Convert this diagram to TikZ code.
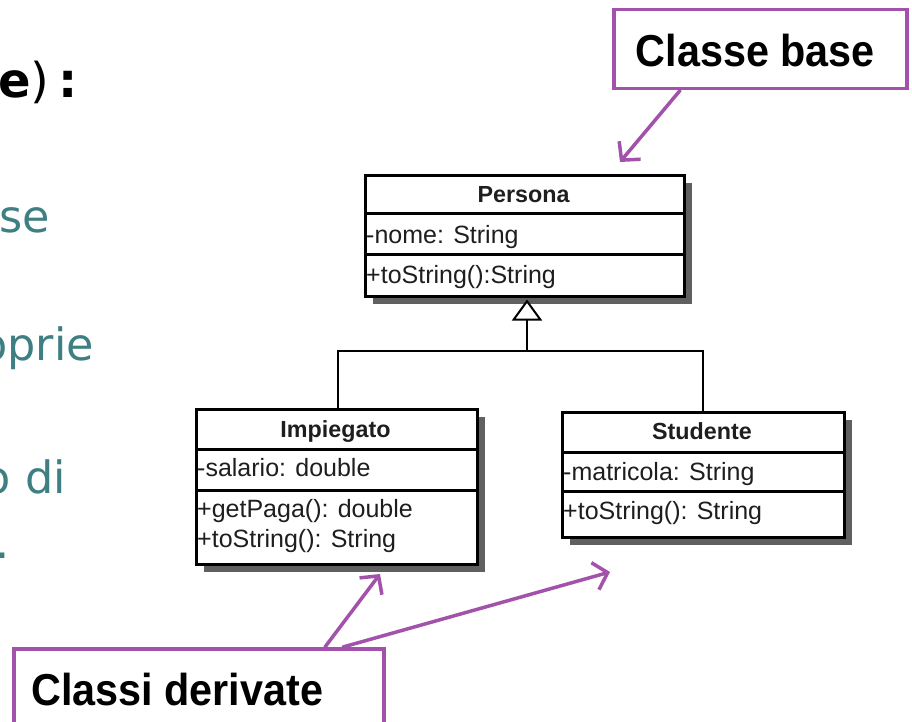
\documentclass[tikz,border=0pt]{standalone}
\usepackage{fontspec}
\setmainfont{DejaVu Sans}
\newfontfamily\umlfont{Liberation Sans}
\newfontfamily\callfont{Liberation Sans}[FakeStretch=0.925]
\usetikzlibrary{arrows.meta,calc}
\definecolor{tealtxt}{RGB}{62,127,131}
\definecolor{callpurple}{RGB}{162,82,170}
\definecolor{umlshade}{RGB}{96,96,96}
\definecolor{umltext}{RGB}{30,30,30}
\tikzset{
  umlbox/.style={draw=black, line width=3pt, fill=white, inner sep=0pt, anchor=north west},
  umlshadow/.style={fill=umlshade},
  umldiv/.style={draw=black, line width=3pt},
  umlhead/.style={font=\umlfont\bfseries\fontsize{23.3}{26}\selectfont, text=umltext, inner sep=0pt, anchor=base},
  umlattr/.style={font=\umlfont\fontsize{25}{28}\selectfont, text=umltext, inner sep=0pt, anchor=base west},
  genline/.style={draw=black, line width=2pt},
  callbox/.style={draw=callpurple, line width=3.5pt, fill=white, inner sep=0pt, anchor=north west},
  calltext/.style={font=\callfont\bfseries\fontsize{44.7}{50}\selectfont, text=black, inner sep=0pt},
  callarrow/.style={draw=callpurple, line width=3.5pt, line cap=round,
    -{Straight Barb[length=13pt, width=28pt, line width=3.5pt]}},
  sidetext/.style={font=\fontsize{44.5}{50}\selectfont, text=tealtxt, inner sep=0pt, anchor=base east},
}
\begin{document}
\begin{tikzpicture}[x=1pt, y=-1pt]
\useasboundingbox (0,0) rectangle (912,722);
\fill[white] (0,0) rectangle (912,722);
\clip (0,0) rectangle (912,722);

% left, cut-off slide text
\node[font=\fontsize{48}{54}\selectfont, text=black, inner sep=0pt, anchor=base west] (t0) at (-2,98) {\textbf{e})\hspace{9pt}\textbf{:}};
\node[sidetext] (t1) at (50,232) {se};
\node[sidetext] (t2) at (94,360) {oprie};
\node[sidetext] (t3) at (66,493) {o di};
\node[sidetext] (t4) at (10,558) {.};

% ---------- Persona ----------
\fill[umlshadow] (373,183) rectangle (692,304);
\node[umlbox, minimum width=319pt, minimum height=121pt] (persona) at (364,174) {};
\draw[umldiv] (persona.west |- 0,213) -- (persona.east |- 0,213);
\draw[umldiv] (persona.west |- 0,254) -- (persona.east |- 0,254);
\node[umlhead] (personaT) at (523.5,202) {Persona};
\node[umlattr] (personaA) at (366,243) {-nome: String};
\node[umlattr] (personaM) at (366,283) {+toString():String};

% ---------- Impiegato ----------
\fill[umlshadow] (204,417) rectangle (485,572);
\node[umlbox, minimum width=281pt, minimum height=155pt] (impiegato) at (195,408) {};
\draw[umldiv] (impiegato.west |- 0,449) -- (impiegato.east |- 0,449);
\draw[umldiv] (impiegato.west |- 0,490) -- (impiegato.east |- 0,490);
\node[umlhead] (impiegatoT) at (335.5,437) {Impiegato};
\node[umlattr] (impiegatoA) at (197,476) {-salario: double};
\node[umlattr] (impiegatoM1) at (197,517) {+getPaga(): double};
\node[umlattr] (impiegatoM2) at (197,547) {+toString(): String};

% ---------- Studente ----------
\fill[umlshadow] (570,420) rectangle (852,545);
\node[umlbox, minimum width=282pt, minimum height=125pt] (studente) at (561,411) {};
\draw[umldiv] (studente.west |- 0,452) -- (studente.east |- 0,452);
\draw[umldiv] (studente.west |- 0,491) -- (studente.east |- 0,491);
\node[umlhead] (studenteT) at (702,439) {Studente};
\node[umlattr] (studenteA) at (563,480) {-matricola: String};
\node[umlattr] (studenteM) at (563,519) {+toString(): String};

% ---------- generalization ----------
\coordinate (gen) at (527,351);
\draw[genline, -{Triangle[open, length=21pt, width=30pt, line width=2pt, fill=white]}]
  (gen) -- ($(persona.south -| gen)+(0,1.5)$);
\draw[genline] ($(impiegato.north west)+(143,0)$) |- (gen) -| ($(studente.north west)+(142,0)$);

% ---------- callouts ----------
\node[callbox, minimum width=293pt, minimum height=79pt] (cbase) at (612,8) {};
\node[calltext] (cbaseT) at ($(cbase.center)+(-5,1)$) {Classe base};
\coordinate (cbaseTip) at (620,162);
\draw[callarrow] ($(cbase.south west)+(68,0)$) -- (cbaseTip);

\node[callbox, minimum width=370pt, minimum height=110pt] (cder) at (12,647) {};
\node[calltext, anchor=base west] (cderT) at (31,705) {Classi derivate};
\coordinate (impTip) at (380,574);
\coordinate (stuTip) at (610,572);
\draw[callarrow] ($(cder.north west)+(313,0)$) -- (impTip);
\draw[callarrow] ($(cder.north west)+(331,0)$) -- (stuTip);
\end{tikzpicture}
\end{document}
